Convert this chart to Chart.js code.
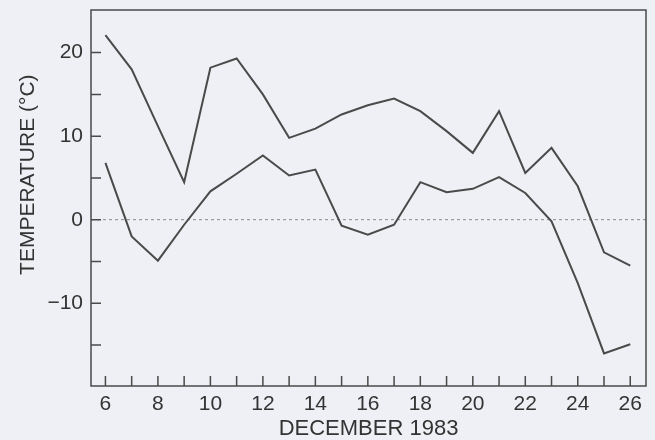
<!DOCTYPE html>
<html>
<head>
<meta charset="utf-8">
<script src="https://cdn.jsdelivr.net/npm/chart.js@4/dist/chart.umd.min.js"></script>
<style>
  html, body { margin: 0; padding: 0; background: #eff0f5; }
  #wrap { width: 655px; height: 440px; }
</style>
</head>
<body>
<div id="wrap"><canvas id="chart"></canvas></div>
<script>
const days = [6, 7, 8, 9, 10, 11, 12, 13, 14, 15, 16, 17, 18, 19, 20, 21, 22, 23, 24, 25, 26];
const maxTemps = [22.1, 18.0, 11.2, 4.5, 18.2, 19.3, 15.0, 9.8, 10.9, 12.6, 13.7, 14.5, 13.0, 10.6, 8.0, 13.0, 5.6, 8.6, 4.0, -3.9, -5.5];
const minTemps = [6.8, -2.0, -4.9, -0.6, 3.4, 5.5, 7.7, 5.3, 6.0, -0.7, -1.8, -0.6, 4.5, 3.3, 3.7, 5.1, 3.2, -0.2, -7.6, -16.0, -14.9];
const xTicks = [6, 7, 8, 9, 10, 11, 12, 13, 14, 15, 16, 17, 18, 19, 20, 21, 22, 23, 24, 25, 26];
const yTicks = [-15, -10, -5, 0, 5, 10, 15, 20];

const ink = '#4a4a4a';

// box round the plot and the inward tick marks
const frame = {
    id: 'frame',
    afterDraw(chart) {
        const {ctx, chartArea: a, scales: {x, y}} = chart;
        ctx.save();
        ctx.strokeStyle = ink;
        ctx.lineWidth = 1.5;
        ctx.strokeRect(a.left, a.top, a.right - a.left, a.bottom - a.top);
        ctx.beginPath();
        xTicks.forEach(v => {
            const px = x.getPixelForValue(v);
            ctx.moveTo(px, a.bottom);
            ctx.lineTo(px, a.bottom - 10);
        });
        yTicks.forEach(v => {
            const py = y.getPixelForValue(v);
            ctx.moveTo(a.left, py);
            ctx.lineTo(a.left + 10, py);
        });
        ctx.stroke();
        ctx.restore();
    }
};

new Chart(document.getElementById('chart'), {
    type: 'line',
    data: {
        datasets: [
            { data: days.map((d, i) => ({x: d, y: maxTemps[i]})) },
            { data: days.map((d, i) => ({x: d, y: minTemps[i]})) },
        ].map(ds => ({
            ...ds,
            borderColor: ink,
            borderWidth: 2,
            pointRadius: 0,
            tension: 0,
            fill: false,
        }))
    },
    options: {
        responsive: true,
        maintainAspectRatio: false,
        animation: false,
        layout: { padding: { left: 0, right: 9, top: 10, bottom: 0 } },
        plugins: { legend: { display: false }, tooltip: { enabled: false } },
        scales: {
            x: {
                type: 'linear',
                min: 5.45,
                max: 26.6,
                afterBuildTicks: s => { s.ticks = xTicks.map(v => ({value: v})); },
                afterFit: s => { s.height = 54; s.paddingLeft = 0; s.paddingRight = 0; },
                ticks: {
                    autoSkip: false,
                    maxRotation: 0,
                    padding: 6,
                    color: '#333',
                    font: { family: 'Liberation Sans', size: 21 },
                    callback: v => (v % 2 === 0 ? String(v) : ''),
                },
                grid: { display: false, drawTicks: false },
                border: { display: false },
                title: {
                    display: true,
                    text: 'DECEMBER 1983',
                    color: '#333',
                    font: { family: 'Liberation Sans', size: 22, lineHeight: 1 },
                    padding: { top: 0, bottom: 0 },
                },
            },
            y: {
                min: -19.9,
                max: 25.1,
                afterBuildTicks: s => { s.ticks = yTicks.map(v => ({value: v})); },
                afterFit: s => { s.width = 91; s.paddingTop = 0; s.paddingBottom = 0; },
                ticks: {
                    padding: 8,
                    color: '#333',
                    font: { family: 'Liberation Sans', size: 21 },
                    callback: v => (v % 10 === 0 ? String(v).replace('-', '\u2212') : ''),
                },
                grid: {
                    drawTicks: false,
                    lineWidth: 1.2,
                    color: c => (c.tick && c.tick.value === 0 ? '#9a9a9a' : 'rgba(0,0,0,0)'),
                },
                border: { display: false, dash: [3, 3] },
                title: {
                    display: true,
                    // leading spaces lift the rotated title a little above the centre, as in the original
                    text: '        TEMPERATURE (°C)',
                    color: '#333',
                    font: { family: 'Liberation Sans', size: 21 },
                    padding: { top: 16, bottom: 0 },
                },
            },
        },
    },
    plugins: [frame],
});
</script>
</body>
</html>
